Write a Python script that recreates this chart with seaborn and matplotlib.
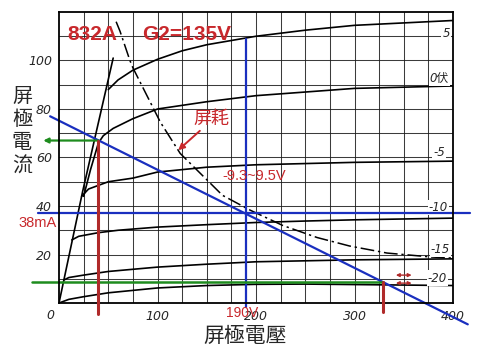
import pandas as pd
import matplotlib
matplotlib.use("Agg")
import matplotlib.pyplot as plt
import seaborn as sns

sns.set_style("white")
plt.rcParams['font.family'] = ['Liberation Sans', 'Noto Sans CJK TC', 'DejaVu Sans']
plt.rcParams['axes.unicode_minus'] = False

CJK = ['Noto Sans CJK TC', 'DejaVu Sans']
RED_TXT = '#c8282c'
RED_LN = '#b02a2a'
BLUE = '#1a2fbf'
GREEN = '#1e8c1e'

# 832A 屏極特性曲線 (G2=135V), 屏壓 V / 屏流 mA
knee_v = [0, 24, 55]
knee_i = [0, 46, 101]

g_p5_v = [50, 60, 75, 100, 125, 150, 200, 250, 300, 350, 400]
g_p5_i = [88, 92, 96, 100.5, 104, 106.5, 110, 112.5, 114.5, 115.5, 116.5]

g_0_v = [25, 32, 40, 45, 55, 75, 100, 150, 200, 250, 300, 350, 400]
g_0_i = [44, 55, 66, 69, 72, 76, 80, 83, 85.5, 87, 88.5, 89, 89.5]

g_m5_v = [23, 30, 50, 75, 100, 150, 200, 250, 300, 400]
g_m5_i = [44, 47, 50, 51.5, 54, 56, 57, 57.5, 58, 58.5]

g_m10_v = [13, 20, 40, 60, 100, 150, 200, 250, 300, 400]
g_m10_i = [26, 27.5, 29, 30, 31.3, 32.3, 33.2, 33.8, 34.3, 35]

g_m15_v = [5, 10, 25, 50, 100, 150, 200, 250, 300, 400]
g_m15_i = [9.5, 10.5, 11.5, 13, 14.8, 16, 17, 17.4, 17.8, 18.2]

g_m20_v = [0, 10, 25, 50, 100, 150, 200, 250, 300, 350, 400]
g_m20_i = [0, 1.5, 2.6, 4.2, 6.2, 7.2, 7.7, 7.8, 7.6, 7.4, 7.2]

# 屏耗曲線
diss_v = [58, 62, 72, 75, 103, 123, 166, 194, 227, 262, 295, 333, 377, 400]
diss_i = [116, 112, 100, 97, 74.5, 61.7, 44.4, 38.3, 32, 27, 23.5, 20.6, 19, 18.5]

# 負載線與工作點
load_v = [-9, 415]
load_i = [77, -8.8]
q_v, q_i = 190, 37
q_line_v = [-21, 417]
q_vert_i = [-1.6, 109]
hi_v, hi_i = 40, 67
lo_v, lo_i = 329, 8.6

grid_labels = ['5', '0伏', '-5', '-10', '-15', '-20']
grid_label_v = [393, 386, 386, 385, 387, 384]
grid_label_i = [111, 92.5, 62, 39.5, 22, 10.3]

curves = [('knee', knee_v, knee_i), ('+5', g_p5_v, g_p5_i), ('0', g_0_v, g_0_i),
          ('-5', g_m5_v, g_m5_i), ('-10', g_m10_v, g_m10_i),
          ('-15', g_m15_v, g_m15_i), ('-20', g_m20_v, g_m20_i)]
df = pd.concat([pd.DataFrame({'V': v, 'I': i, 'curve': n}) for n, v, i in curves])
df_diss = pd.DataFrame({'V': diss_v, 'I': diss_i})

fig = plt.figure(figsize=(5.0, 3.51), dpi=100)
ax = fig.add_axes([59 / 500, 48 / 351, 394 / 500, 291 / 351])

for v in range(25, 400, 25):
    ax.axvline(v, color='#1a1a1a', lw=0.75, alpha=0.85, zorder=1)
for i in range(10, 120, 10):
    ax.axhline(i, color='#1a1a1a', lw=0.75, alpha=0.85, zorder=1)

sns.lineplot(data=df, x='V', y='I', units='curve', estimator=None, sort=False,
             color='black', lw=1.2, ax=ax, zorder=3)
sns.lineplot(data=df_diss, x='V', y='I', estimator=None, sort=False, color='black',
             lw=1.1, linestyle=(0, (9, 2.5, 1.5, 2.5)), ax=ax, zorder=3)

ax.set_xlim(0, 400)
ax.set_ylim(0, 120)
ax.set_xticks([100, 200, 300, 400])
ax.set_yticks([20, 40, 60, 80, 100])
ax.tick_params(length=0, labelsize=9, pad=5)
for lab in ax.get_xticklabels() + ax.get_yticklabels():
    lab.set_fontstyle('italic')
    lab.set_family('DejaVu Sans')
ax.set_xlabel('')
ax.set_ylabel('')
for s in ax.spines.values():
    s.set_color('black')
    s.set_linewidth(1.3)
    s.set_zorder(5)
ax.text(-9, -5, '0', fontsize=9, style='italic', family='DejaVu Sans',
        ha='center', va='center')

# 柵壓標示
for t, x, y in zip(grid_labels, grid_label_v, grid_label_i):
    ax.text(x, y, t, fontsize=8.5, style='italic', family=['DejaVu Sans', 'Noto Sans CJK TC'],
            ha='center', va='center', zorder=4,
            bbox=dict(facecolor='white', edgecolor='none', pad=0.8))

# 負載線及標註線
ax.plot(load_v, load_i, color=BLUE, lw=1.6, clip_on=False, zorder=5)
ax.plot(q_line_v, [q_i, q_i], color=BLUE, lw=1.6, clip_on=False, zorder=5)
ax.plot([q_v, q_v], q_vert_i, color=BLUE, lw=1.6, clip_on=False, zorder=5)
ax.plot([hi_v, hi_v], [hi_i, -4.5], color=RED_LN, lw=2.2, clip_on=False, zorder=6)
ax.plot([lo_v, lo_v], [lo_i, -3.7], color=RED_LN, lw=2.2, clip_on=False, zorder=6)
ax.plot([-27, lo_v], [lo_i, lo_i], color=GREEN, lw=1.8, clip_on=False, zorder=5)
ax.annotate('', xy=(-16, hi_i), xytext=(hi_v, hi_i), annotation_clip=False, zorder=5,
            arrowprops=dict(arrowstyle='-|>', color=GREEN, lw=1.6,
                            mutation_scale=7, shrinkA=0, shrinkB=0))
for yy in (11.5, 8.2):
    ax.annotate('', xy=(342, yy), xytext=(358, yy), zorder=6,
                arrowprops=dict(arrowstyle='<|-|>', color=RED_LN, lw=1.0,
                                mutation_scale=5, shrinkA=0, shrinkB=0))

# 文字
ax.text(9, 108.5, '832A', color=RED_TXT, fontsize=15, fontweight='bold', zorder=7)
ax.text(84, 108.5, 'G2=135V', color=RED_TXT, fontsize=15, fontweight='bold', zorder=7)
ax.text(155, 76, '屏耗', color=RED_TXT, fontsize=13, family=CJK,
        ha='center', va='center', zorder=7)
ax.annotate('', xy=(121, 63), xytext=(143, 71), zorder=7,
            arrowprops=dict(arrowstyle='-|>', color=RED_TXT, lw=1.4,
                            mutation_scale=9, shrinkA=0, shrinkB=0))
ax.text(166, 52.5, '-9.3~9.5V', color=RED_TXT, fontsize=10.5, ha='left', va='center', zorder=7)
ax.text(-41, 31.5, '38mA', color=RED_TXT, fontsize=10.5, ha='left', va='baseline',
        zorder=7, clip_on=False)
ax.text(186, -4.2, '190V', color=RED_TXT, fontsize=10, ha='center', va='center',
        zorder=7, clip_on=False)

fig.text(245 / 500, 1 - 336 / 351, '屏極電壓', fontsize=15, family=CJK,
         ha='center', va='center')
for k, ch in enumerate('屏極電流'):
    fig.text(22 / 500, 1 - (96 + 23.3 * k) / 351, ch, fontsize=14.5, family=CJK,
             ha='center', va='center')

fig.savefig('out.png', dpi=100)
